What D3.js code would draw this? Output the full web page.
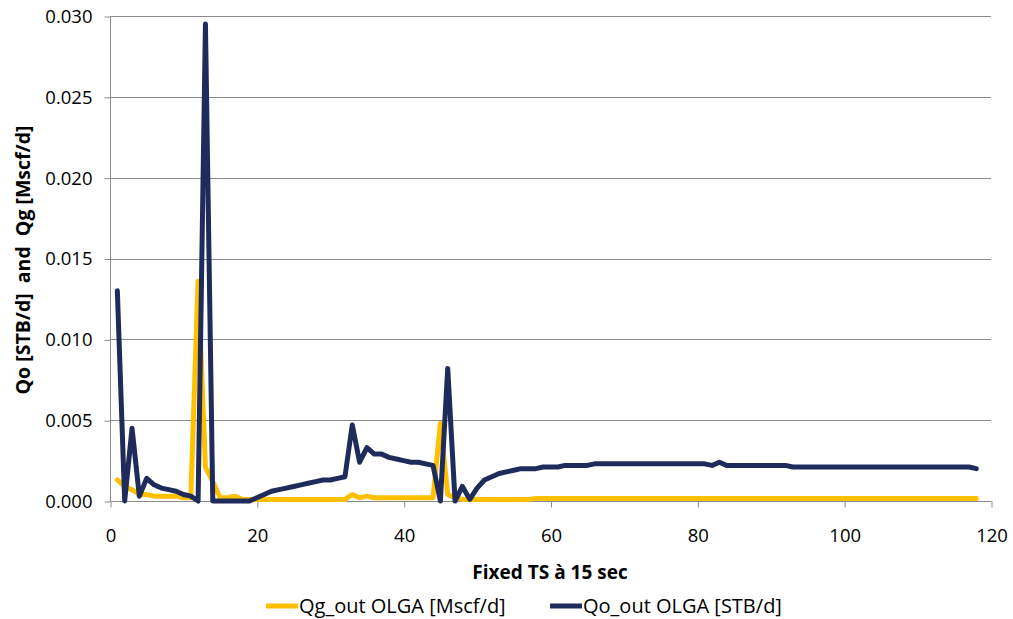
<!DOCTYPE html>
<html>
<head>
<meta charset="utf-8">
<script src="https://cdn.jsdelivr.net/npm/d3@7"></script>
<style>
  body { margin: 0; background: #fff; }
  text { font-family: "Open Sans", sans-serif; fill: #000; }
</style>
</head>
<body>
<script>
var steps = [1,2,3,4,5,6,7,8,9,10,11,12,13,14,15,16,17,18,19,20,
  21,22,23,24,25,26,27,28,29,30,31,32,33,34,35,36,37,38,39,40,
  41,42,43,44,45,46,47,48,49,50,51,52,53,54,55,56,57,58,59,60,
  61,62,63,64,65,66,67,68,69,70,71,72,73,74,75,76,77,78,79,80,
  81,82,83,84,85,86,87,88,89,90,91,92,93,94,95,96,97,98,99,100,
  101,102,103,104,105,106,107,108,109,110,111,112,113,114,115,116,117,118];

var qg = [0.0013,0.0009,0.0007,0.0004,0.0004,0.0003,0.0003,0.0003,0.0003,0.0002,
  0.0002,0.0136,0.0021,0.0012,0.0002,0.0002,0.0003,0.0001,0.0001,0.0001,
  0.0001,0.0001,0.0001,0.0001,0.0001,0.0001,0.0001,0.0001,0.0001,0.0001,
  0.0001,0.0001,0.0004,0.0002,0.0003,0.0002,0.0002,0.0002,0.0002,0.0002,
  0.0002,0.0002,0.0002,0.0002,0.0048,0.0004,0.0002,0.0001,0.0001,0.0001,
  0.0001,0.0001,0.0001,0.0001,0.0001,0.0001,0.0001,0.00015,0.00015,0.00015,
  0.00015,0.00015,0.00015,0.00015,0.00015,0.00015,0.00015,0.00015,0.00015,0.00015,
  0.00015,0.00015,0.00015,0.00015,0.00015,0.00015,0.00015,0.00015,0.00015,0.00015,
  0.00015,0.00015,0.00015,0.00015,0.00015,0.00015,0.00015,0.00015,0.00015,0.00015,
  0.00015,0.00015,0.00015,0.00015,0.00015,0.00015,0.00015,0.00015,0.00015,0.00015,
  0.00015,0.00015,0.00015,0.00015,0.00015,0.00015,0.00015,0.00015,0.00015,0.00015,
  0.00015,0.00015,0.00015,0.00015,0.00015,0.00015,0.00015,0.00015];

var qo = [0.0130,0,0.0045,0.0003,0.0014,0.0010,0.0008,0.0007,0.0006,0.0004,
  0.0003,0,0.0295,0,0,0,0,0,0,0.0002,
  0.0004,0.0006,0.0007,0.0008,0.0009,0.0010,0.0011,0.0012,0.0013,0.0013,
  0.0014,0.0015,0.0047,0.0024,0.0033,0.0029,0.0029,0.0027,0.0026,0.0025,
  0.0024,0.0024,0.0023,0.0022,0,0.0082,0,0.0009,0.0001,0.0008,
  0.0013,0.0015,0.0017,0.0018,0.0019,0.0020,0.0020,0.0020,0.0021,0.0021,
  0.0021,0.0022,0.0022,0.0022,0.0022,0.0023,0.0023,0.0023,0.0023,0.0023,
  0.0023,0.0023,0.0023,0.0023,0.0023,0.0023,0.0023,0.0023,0.0023,0.0023,
  0.0023,0.0022,0.0024,0.0022,0.0022,0.0022,0.0022,0.0022,0.0022,0.0022,
  0.0022,0.0022,0.0021,0.0021,0.0021,0.0021,0.0021,0.0021,0.0021,0.0021,
  0.0021,0.0021,0.0021,0.0021,0.0021,0.0021,0.0021,0.0021,0.0021,0.0021,
  0.0021,0.0021,0.0021,0.0021,0.0021,0.0021,0.0021,0.0020];

var xTicks = [0,20,40,60,80,100,120];
var yTicks = [0,0.005,0.010,0.015,0.020,0.025,0.030];
var seriesNames = ["Qg_out OLGA [Mscf/d]", "Qo_out OLGA [STB/d]"];
var seriesColors = ["#ffc000", "#1f2b5b"];

var width = 1013;
var height = 619;
var plotLeft = 110, plotRight = 991, plotTop = 16, plotBottom = 501;
var gridColor = "#8a8a8a";

var x = d3.scaleLinear().domain([0, 120]).range([plotLeft, plotRight]);
var y = d3.scaleLinear().domain([0, 0.030]).range([plotBottom, plotTop]);

var svg = d3.select("body").append("svg")
            .attr("width", width)
            .attr("height", height);

svg.append("g")
   .selectAll("line")
   .data(yTicks.slice(1))
   .enter().append("line")
   .attr("x1", plotLeft).attr("x2", plotRight)
   .attr("y1", function(d){ return Math.round(y(d)) + 0.5; })
   .attr("y2", function(d){ return Math.round(y(d)) + 0.5; })
   .attr("stroke", gridColor)
   .attr("stroke-width", 1);

var yAxis = svg.append("g")
               .attr("transform", "translate(" + (plotLeft + 0.5) + ",0.5)")
               .call(d3.axisLeft(y).tickValues(yTicks).tickFormat(d3.format(".3f")).tickSize(6).tickPadding(12));

var xAxis = svg.append("g")
               .attr("transform", "translate(0.5," + (plotBottom + 0.5) + ")")
               .call(d3.axisBottom(x).tickValues(xTicks).tickSize(6).tickPadding(21));

svg.selectAll(".domain, .tick line").attr("stroke", gridColor);
svg.selectAll(".tick text").style("font-size", "18.5px").attr("fill", "#000");
xAxis.select(".domain").attr("d", "M" + plotLeft + ",0H" + plotRight);
yAxis.select(".domain").attr("d", "M0," + plotTop + "V" + plotBottom);

var line = d3.line()
             .x(function(d){ return x(d[0]); })
             .y(function(d){ return y(d[1]); });

[qg, qo].forEach(function(vals, i){
  svg.append("path")
     .datum(steps.map(function(s, j){ return [s, vals[j]]; }))
     .attr("d", line)
     .attr("fill", "none")
     .attr("stroke", seriesColors[i])
     .attr("stroke-width", 5)
     .attr("stroke-linejoin", "round")
     .attr("stroke-linecap", "round");
});

svg.append("text")
   .attr("x", 550).attr("y", 579)
   .attr("text-anchor", "middle")
   .style("font-size", "19px").style("font-weight", "bold")
   .text("Fixed TS à 15 sec");

svg.append("text")
   .attr("transform", "translate(30,260) rotate(-90)")
   .attr("text-anchor", "middle")
   .style("font-size", "19.5px").style("font-weight", "bold")
   .style("white-space", "pre")
   .text("Qo [STB/d]  and  Qg [Mscf/d]");

var legendX = [266, 550];
var legend = svg.selectAll(".legend")
                .data(seriesNames)
                .enter().append("g")
                .attr("class", "legend")
                .attr("transform", function(d, i){ return "translate(" + legendX[i] + ",606)"; });

legend.append("line")
      .attr("x1", 0).attr("x2", 32)
      .attr("y1", 0).attr("y2", 0)
      .attr("stroke", function(d, i){ return seriesColors[i]; })
      .attr("stroke-width", 5);

legend.append("text")
      .attr("x", 33).attr("y", 7)
      .style("font-size", "20px")
      .text(function(d){ return d; });
</script>
</body>
</html>
